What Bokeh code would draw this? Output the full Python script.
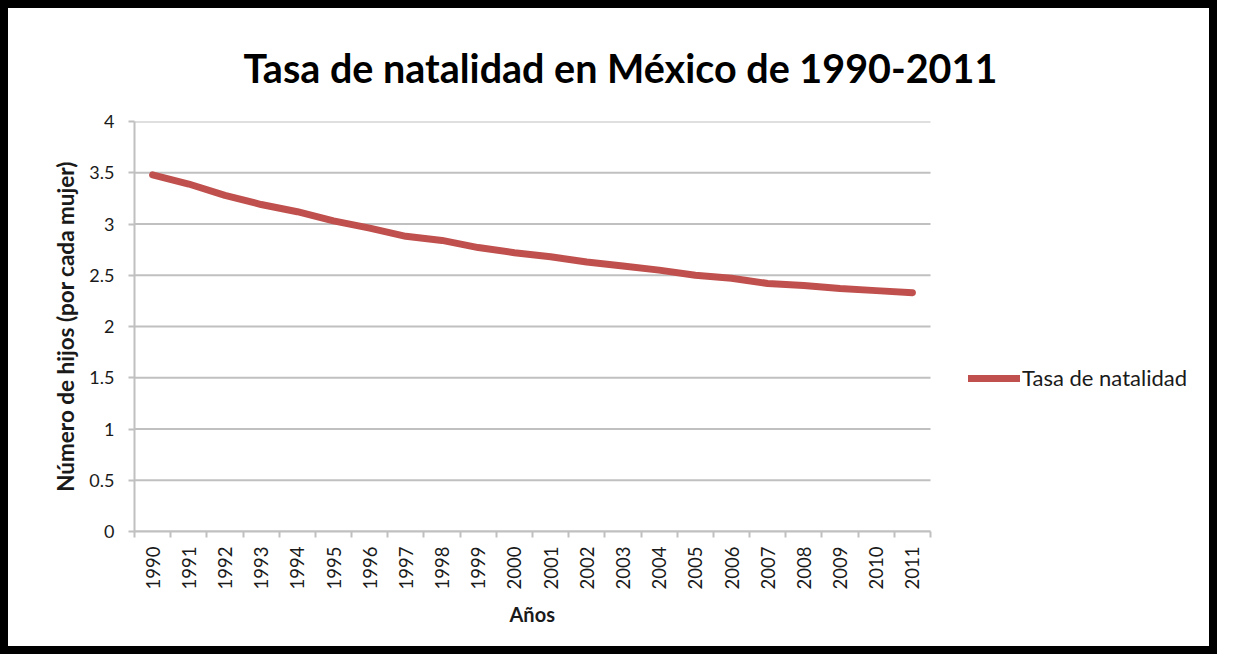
from bokeh.plotting import figure
from bokeh.models import (Range1d, FixedTicker, NumeralTickFormatter, Legend, LegendItem,
                          ColumnDataSource, Title)
from bokeh.embed import file_html
from bokeh.resources import INLINE
import math

# ---- data ----
years = [1990, 1991, 1992, 1993, 1994, 1995, 1996, 1997, 1998, 1999, 2000,
         2001, 2002, 2003, 2004, 2005, 2006, 2007, 2008, 2009, 2010, 2011]
tasa = [3.48, 3.39, 3.28, 3.19, 3.12, 3.03, 2.96, 2.88, 2.84, 2.77, 2.72,
        2.68, 2.63, 2.59, 2.55, 2.50, 2.47, 2.42, 2.40, 2.37, 2.35, 2.33]
y_ticks = [0, 0.5, 1, 1.5, 2, 2.5, 3, 3.5, 4]

title_text = "Tasa de natalidad en México de 1990-2011"
series_name = "Tasa de natalidad"
x_label = "Años"
y_label = "Número de hijos (por cada mujer)"

FONT = "Lato"
GRID = "#C0C0C0"
RED = "#C0504D"
TXT = "#1a1a1a"

# layout (pixels)
W, H = 1217, 654
ML, MR, MT, MB = 126, 0, 113, 131
PLOT_W = 796                      # width of the plotted area (axis span)
FRAME_W = W - ML - MR             # frame also hosts the legend on the right
x_start = years[0] - 0.5
x_stop = years[-1] + 0.5
px_per_year = PLOT_W / (x_stop - x_start)
x_end_frame = x_start + FRAME_W / px_per_year

src = ColumnDataSource(dict(year=years, tasa=tasa))
grid_src = ColumnDataSource(dict(x0=[x_start] * len(y_ticks), x1=[x_stop] * len(y_ticks),
                                 y=y_ticks))

p = figure(width=W, height=H, output_backend="svg", toolbar_location=None,
           x_range=Range1d(x_start, x_end_frame),
           y_range=Range1d(y_ticks[0], y_ticks[-1]),
           min_border_left=ML, min_border_right=MR, min_border_top=MT,
           min_border_bottom=MB, title=title_text)
p.styles = {"border": "8px solid black"}
p.outline_line_color = None
p.background_fill_color = "white"
p.border_fill_color = "white"

# title
p.title.text_font = FONT
p.title.text_font_style = "bold"
p.title.text_font_size = "39.5px"
p.title.text_color = "black"
p.title.align = "left"
p.title.offset = 109
p.title.standoff = 62

# grid (limited to the plotted span)
p.xgrid.visible = False
p.ygrid.visible = False
p.segment(x0="x0", x1="x1", y0="y", y1="y", source=grid_src,
          line_color=GRID, line_width=2, level="underlay")

# y axis
ya = p.yaxis[0]
ya.ticker = FixedTicker(ticks=y_ticks)
ya.formatter = NumeralTickFormatter(format="0.[0]")
ya.axis_line_color = GRID
ya.axis_line_width = 2
ya.major_tick_line_color = GRID
ya.major_tick_line_width = 2
ya.major_tick_out = 6
ya.major_tick_in = 0
ya.minor_tick_line_color = None
ya.major_label_standoff = 14
ya.major_label_text_font = FONT
ya.major_label_text_font_size = "18px"
ya.major_label_text_color = TXT
ya.axis_label = y_label
ya.axis_label_text_font = FONT
ya.axis_label_text_font_style = "bold"
ya.axis_label_text_font_size = "22.5px"
ya.axis_label_text_color = TXT
ya.axis_label_standoff = 7

# x axis
minor = [y - 0.5 for y in years] + [years[-1] + 0.5]
xa = p.xaxis[0]
xa.bounds = (x_start, x_stop)
xa.ticker = FixedTicker(ticks=years, minor_ticks=minor)
xa.major_label_orientation = math.pi / 2
xa.axis_line_color = GRID
xa.axis_line_width = 2
xa.major_tick_line_color = None
xa.major_tick_out = 0
xa.major_tick_in = 0
xa.minor_tick_line_color = GRID
xa.minor_tick_line_width = 2
xa.minor_tick_out = 6
xa.minor_tick_in = 0
xa.major_label_standoff = 9
xa.major_label_text_font = FONT
xa.major_label_text_font_size = "18.5px"
xa.major_label_text_color = TXT

xt = Title(text=x_label, align="left", offset=375, standoff=14,
           text_font=FONT, text_font_style="bold", text_font_size="20px",
           text_color=TXT)
p.add_layout(xt, "below")

r = p.line("year", "tasa", source=src, line_color=RED, line_width=7,
           line_cap="round", line_join="round")

legend = Legend(items=[LegendItem(label=series_name, renderers=[r])],
                location=(PLOT_W + 38, 140), margin=0, padding=0, spacing=0,
                glyph_width=52, glyph_height=20, label_standoff=2,
                border_line_color=None, background_fill_alpha=0)
legend.label_text_font = FONT
legend.label_text_font_size = "22px"
legend.label_text_color = TXT
p.add_layout(legend)

open("out.html", "w").write(file_html(p, INLINE))
